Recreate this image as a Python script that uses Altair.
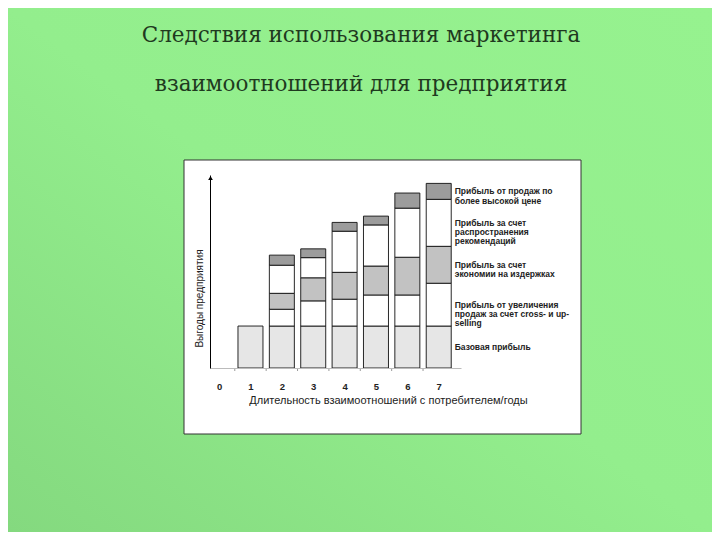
import altair as alt
import pandas as pd

# ---- data ----
years = [1, 2, 3, 4, 5, 6, 7]
tick_values = [0, 1, 2, 3, 4, 5, 6, 7]
layer_names = [
    "Базовая прибыль",
    "Прибыль от увеличения продаж за счет cross- и up-selling",
    "Прибыль за счет экономии на издержках",
    "Прибыль за счет распространения рекомендаций",
    "Прибыль от продаж по более высокой цене",
]
legend_texts = [
    "Базовая прибыль",
    "Прибыль от увеличения\nпродаж за счет cross- и up-\nselling",
    "Прибыль за счет\nэкономии на издержках",
    " Прибыль за счет\n распространения\n рекомендаций",
    "Прибыль от продаж по\nболее высокой цене",
]
layer_colors = ["#e6e6e6", "#ffffff", "#c2c2c2", "#ffffff", "#9c9c9c"]

base_profit = [10, 10, 10, 10, 10, 10, 10]
cross_selling = [0, 4.0, 6.0, 6.4, 7.4, 7.4, 10.2]
cost_savings = [0, 3.8, 5.5, 6.4, 6.9, 9.0, 8.8]
referrals = [0, 6.7, 4.8, 9.8, 9.8, 11.7, 11.2]
price_premium = [0, 2.4, 2.1, 2.1, 2.1, 3.6, 3.8]

title_line1 = "Следствия использования маркетинга"
title_line2 = "взаимоотношений для предприятия"
x_title = "Длительность взаимоотношений с потребителем/годы"
y_title = "Выгоды предприятия"

# ---- build table ----
series = [base_profit, cross_selling, cost_savings, referrals, price_premium]
rows = []
for i, yr in enumerate(years):
    acc = 0.0
    for j, name in enumerate(layer_names):
        v = series[j][i]
        if v > 0:
            rows.append({"year": yr, "layer": name, "y0": acc, "y1": acc + v,
                         "mid": acc + v / 2, "label": legend_texts[j]})
        acc += v
df = pd.DataFrame(rows)
legend_df = df[df["year"] == years[-1]]
minor_df = pd.DataFrame({"year": [t + 0.5 for t in tick_values[:-1]]})

W, H = 251, 193
PL, PT = 202, 167
PR, PB = 704 - PL - W, 524 - PT - H

xscale = alt.Scale(domain=[-0.29, 7.71], nice=False, zero=False, padding=0)
yscale = alt.Scale(domain=[0, 46], nice=False, padding=0)
one = alt.Data(values=[{}])

xaxis = alt.Axis(values=tick_values, format="d", title=x_title, grid=False,
                 ticks=False, tickSize=0, labelPadding=18, labelBaseline="middle",
                 labelOverlap=False, labelFlush=False,
                 labelFont="Liberation Sans", labelFontSize=9.5, labelFontWeight="bold",
                 labelColor="#222222", domainColor="#bbbbbb", domainWidth=1,
                 titleFont="Liberation Sans", titleFontSize=11, titleFontWeight="normal",
                 titleColor="#222222", titleX=178, titleY=32, titleBaseline="middle",
                 titleAlign="center", zindex=1)
yaxis = alt.Axis(labels=False, ticks=False, grid=False, title=y_title,
                 domainColor="#000000", domainWidth=1,
                 titleFont="Liberation Sans", titleFontSize=10, titleFontWeight="normal",
                 titleColor="#222222", titleAngle=270, titleX=-11, titleY=123,
                 titleBaseline="middle", titleAlign="center", zindex=1)

bg = alt.Chart(one).mark_rect(
    color=alt.LinearGradient(
        gradient="linear", x1=0, y1=1, x2=1, y2=0,
        stops=[alt.GradientStop(color="#84d97f", offset=0),
               alt.GradientStop(color="#93ee8d", offset=0.5),
               alt.GradientStop(color="#96f28f", offset=1)])
).encode(x=alt.value(-PL), x2=alt.value(W + PR), y=alt.value(-PT), y2=alt.value(H + PB))

panel = alt.Chart(one).mark_rect(fill="white", stroke="#333333", strokeWidth=1).encode(
    x=alt.value(-26), x2=alt.value(371), y=alt.value(-15), y2=alt.value(259))

t1 = alt.Chart(one).mark_text(font="DejaVu Serif", fontSize=21.5, color="#1f3a1f",
                              align="center", baseline="alphabetic").encode(
    x=alt.value(151), y=alt.value(-133), text=alt.value(title_line1))
t2 = alt.Chart(one).mark_text(font="DejaVu Serif", fontSize=21.5, color="#1f3a1f",
                              align="center", baseline="alphabetic").encode(
    x=alt.value(151), y=alt.value(-84), text=alt.value(title_line2))

bars = alt.Chart(df).mark_bar(size=25, stroke="#111111", strokeWidth=0.9).encode(
    x=alt.X("year:Q", scale=xscale, axis=xaxis),
    y=alt.Y("y0:Q", scale=yscale, axis=yaxis),
    y2="y1:Q",
    color=alt.Color("layer:N", scale=alt.Scale(domain=layer_names, range=layer_colors), legend=None),
)

minor = alt.Chart(minor_df).mark_rule(color="#999999", strokeWidth=1).encode(
    x=alt.X("year:Q", scale=xscale, axis=xaxis), y=alt.value(H), y2=alt.value(H + 3))

arrow = alt.Chart(one).mark_point(shape="triangle-up", filled=True, color="#000000",
                                  size=22, opacity=1).encode(x=alt.value(0.5), y=alt.value(3))

legend = alt.Chart(legend_df).mark_text(align="left", baseline="middle", dx=16,
                                        font="Liberation Sans", fontSize=8.5, fontWeight="bold",
                                        color="#222222", lineBreak="\n", lineHeight=9.3).encode(
    x=alt.X("year:Q", scale=xscale, axis=xaxis),
    y=alt.Y("mid:Q", scale=yscale, axis=yaxis),
    text="label:N")

chart = alt.layer(bg, panel, t1, t2, bars, minor, arrow, legend).properties(
    width=W, height=H,
    autosize=alt.AutoSizeParams(type="none"),
    padding={"left": PL, "top": PT, "right": PR, "bottom": PB},
    background="#8de88a",
).configure_view(stroke=None)

chart.save("out.html", embed_options={"renderer": "svg", "actions": False})
